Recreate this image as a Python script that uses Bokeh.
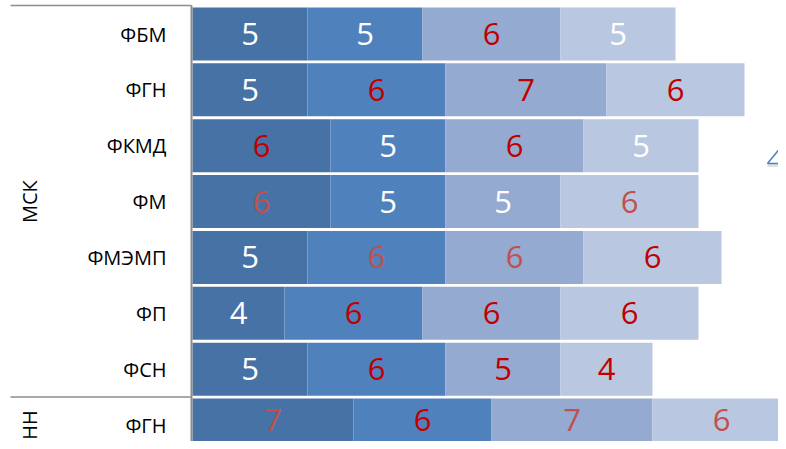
import numpy as np
from bokeh.plotting import figure
from bokeh.models import Range1d, ColumnDataSource
from bokeh.core.properties import value
from bokeh.embed import file_html
from bokeh.resources import INLINE

# ---- data ----
groups = ["МСК", "МСК", "МСК", "МСК", "МСК", "МСК", "МСК", "НН"]
categories = ["ФБМ", "ФГН", "ФКМД", "ФМ", "ФМЭМП", "ФП", "ФСН", "ФГН"]
series1 = [5, 5, 6, 6, 5, 4, 5, 7]
series2 = [5, 6, 5, 5, 6, 6, 6, 6]
series3 = [6, 7, 6, 5, 6, 6, 5, 7]
series4 = [5, 6, 5, 6, 6, 6, 4, 6]

# label colours per cell (W = white, R = dark red, r = light red)
label_codes = [
    "WWRW",
    "WRRR",
    "RWRW",
    "rWWr",
    "WrrR",
    "WRRR",
    "WRRR",
    "rRrr",
]
code_color = {"W": "#FFFFFF", "R": "#C00000", "r": "#C0504D"}
seg_colors = ["#4672A6", "#4F81BD", "#95AAD0", "#BAC7E1"]

# ---- geometry (screen pixel mapping) ----
W, H = 778, 441
PX_UNIT = 23.0          # px per value unit
X0_SCREEN = 192.0       # screen x of value 0
ROW_PITCH = 55.86
ROW0_CENTER = 33.5
x_start = -X0_SCREEN / PX_UNIT
x_end = x_start + W / PX_UNIT
y_top = -ROW0_CENTER / ROW_PITCH
y_bottom = y_top + H / ROW_PITCH


def sx(px):
    return x_start + px / PX_UNIT


def sy(py):
    return y_top + py / ROW_PITCH


p = figure(width=W, height=H, output_backend="svg", toolbar_location=None,
           x_range=Range1d(x_start, x_end), y_range=Range1d(y_bottom, y_top),
           min_border=0, min_border_left=0, min_border_right=0,
           min_border_top=0, min_border_bottom=0)
p.axis.visible = False
p.grid.visible = False
p.outline_line_color = None
p.background_fill_color = "white"
p.border_fill_color = "white"

rows = np.arange(len(categories))
vals = np.array([series1, series2, series3, series4], dtype=float)
rights = np.cumsum(vals, axis=0)
lefts = rights - vals
bar_h = 53.0 / ROW_PITCH

for k in range(4):
    src = ColumnDataSource(dict(y=rows, left=lefts[k], right=rights[k]))
    p.hbar(y="y", left="left", right="right", height=bar_h, source=src,
           fill_color=seg_colors[k], line_color=None)

# value labels (last row nudged up a little so it stays inside the canvas)
lx, ly, lt, lc, loff = [], [], [], [], []
for i in range(len(categories)):
    for k in range(4):
        lx.append((lefts[k][i] + rights[k][i]) / 2)
        ly.append(rows[i])
        lt.append(str(int(vals[k][i])))
        lc.append(code_color[label_codes[i][k]])
        loff.append(-5 if i == len(categories) - 1 else 0)
lsrc = ColumnDataSource(dict(x=lx, y=ly, text=lt, color=lc, off=loff))
p.text(x="x", y="y", text="text", text_color="color", y_offset="off",
       source=lsrc, text_align="center", text_baseline="middle",
       text_font=value("Open Sans"), text_font_size="31px")

# category labels
p.text(x=[sx(166)] * len(categories), y=rows, text=categories,
       text_align="right", text_baseline="middle",
       text_font=value("Open Sans"), text_font_size="20px", text_color="#000000")

# group labels (rotated)
grp_names = ["МСК", "НН"]
grp_centers = [np.mean([r for r, g in zip(rows, groups) if g == n]) for n in grp_names]
p.text(x=[sx(29)] * 2, y=grp_centers, text=grp_names, angle=np.pi / 2,
       text_align="center", text_baseline="middle",
       text_font=value("Open Sans"), text_font_size="20px", text_color="#000000")

# axis line, top border and group separator
p.segment(x0=[sx(191)], y0=[sy(5)], x1=[sx(191)], y1=[sy(460)],
          line_color="#8C8C8C", line_width=2)
p.segment(x0=[sx(10)], y0=[sy(5)], x1=[sx(191)], y1=[sy(5)],
          line_color="#8C8C8C", line_width=1.5)
sep_y = (6 + 7) / 2
p.segment(x0=[sx(10)], y0=[sep_y], x1=[sx(191)], y1=[sep_y],
          line_color="#8C8C8C", line_width=1.5)

# partial triangle decoration at right edge
p.line(x=[sx(767), sx(787)], y=[sy(165), sy(165)], line_color="#E3E3E3", line_width=3)
p.line(x=[sx(786), sx(767), sx(787)], y=[sy(140), sy(163), sy(163)],
       line_color="#4F81BD", line_width=1.5)

open("out.html", "w").write(file_html(p, INLINE))
